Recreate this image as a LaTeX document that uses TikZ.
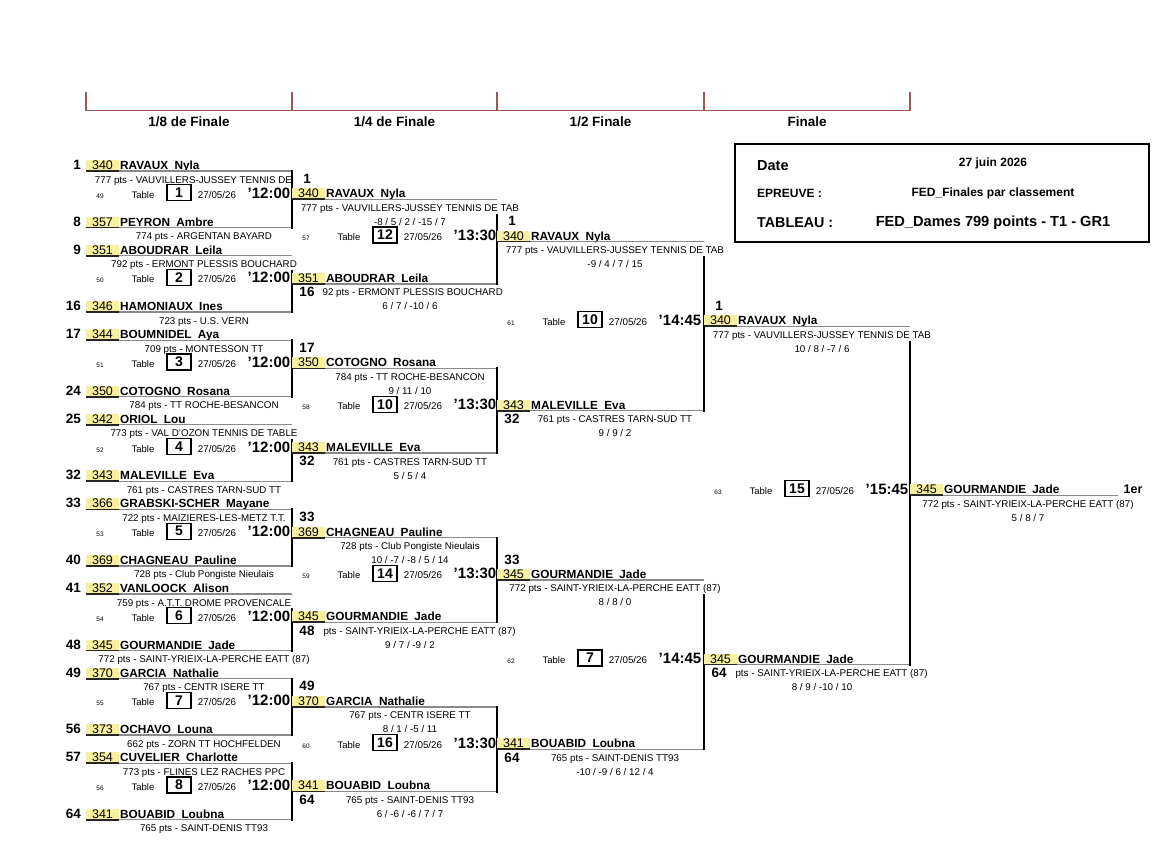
\documentclass[tikz,border=0pt]{standalone}
\usepackage{fontspec}
\setmainfont{Liberation Sans}
\definecolor{yel}{HTML}{F7F0A0}
\definecolor{hdrc}{HTML}{A05555}
\definecolor{lgray}{HTML}{8A8A8A}
\tikzset{
 brat/.style={anchor=base,inner sep=0pt,font=\fontsize{12.5}{14}\selectfont},
 bnm/.style={anchor=base west,inner sep=0pt,font=\bfseries\fontsize{11.8}{14}\selectfont},
 bclub/.style={anchor=base,inner sep=0pt,font=\fontsize{9.8}{12}\selectfont},
 bseedl/.style={anchor=base east,inner sep=0pt,font=\bfseries\fontsize{13.5}{15}\selectfont},
 bseedc/.style={anchor=base,inner sep=0pt,font=\bfseries\fontsize{13.5}{15}\selectfont},
 bmno/.style={anchor=base,inner sep=0pt,font=\fontsize{6.5}{8}\selectfont},
 btbl/.style={anchor=base,inner sep=0pt,font=\fontsize{9.5}{11}\selectfont},
 bbox/.style={draw,line width=1.2pt,minimum width=24pt,minimum height=16pt,inner sep=0pt,font=\bfseries\fontsize{14}{16}\selectfont},
 bdate/.style={anchor=base,inner sep=0pt,font=\fontsize{9.8}{11}\selectfont},
 btm/.style={anchor=base,inner sep=0pt,font=\bfseries\fontsize{15}{17}\selectfont},
 bdk/.style={line width=1.8pt,black!85},
 bgy/.style={line width=1.3pt,lgray},
 bvl/.style={line width=2.2pt,black,line cap=rect},
 bhd/.style={line width=1.1pt,hdrc},
 bhl/.style={anchor=base,inner sep=0pt,font=\bfseries\fontsize{13.5}{15}\selectfont},
 binfo/.style={inner sep=0pt,font=\bfseries\fontsize{12}{14}\selectfont},
}
\newcommand\bent[7]{%
 \fill[yel] (#2,#3-9.5) rectangle ++(33,11);
 \node[brat] (#1r) at (#2+16.5,#3) {#4};
 \node[bnm] (#1n) at (#2+34,#3) {#5\hspace{3pt} #6};
 \coordinate (#1a) at (#2,#3+1.5);
 \coordinate (#1m) at (#2+33,#3+1.5);
 \coordinate (#1b) at (#2+#7,#3+1.5);
 \draw[bgy] (#1m) -- (#1b);
 \draw[bdk] (#1a) -- (#1m);
}
\newcommand\pone[7]{%
 \bent{#1}{86}{#2}{#4}{#5}{#6}{206}
 \node[bseedl] (#1k) at (81,#2) {#3};
 \node[bclub] (#1c) at (204,#2+13.5) {#7};
}
\newcommand\bcs[4]{\node[bclub] (#1c) at (#2+118,#3+13.5) {#4};}
\newcommand\bsc[4]{\node[bclub] (#1s) at (#2+118,#3+27.5) {#4};}
\newcommand\bsu[4]{\node[bseedc] (#1k) at (#2+15,#3-14.4) {#4};}
\newcommand\bsd[4]{\node[bseedc] (#1k) at (#2+15,#3+14.4) {#4};}
\newcommand\bmatch[6]{%
 \node[bmno] (#1n) at (#2+14,#3) {#4};
 \node[btbl] (#1t) at (#2+57,#3) {Table};
 \node[bbox] (#1x) at (#2+93,#3-5.5) {#5};
 \node[bdate] (#1d) at (#2+131,#3) {27/05/26};
 \node[btm] (#1h) at (#2+183,#3) {'#6};
}
\begin{document}
\begin{tikzpicture}[x=1pt,y=-1pt]
\fill[white] (0,0) rectangle (1169,847);
\useasboundingbox (0,0) rectangle (1169,847);
% header
\draw[bhd] (86,92) -- (86,110.5) -- (910,110.5) -- (910,92);
\foreach \x in {292,497,704} \draw[bhd] (\x,92) -- (\x,110.5);
\node[bhl] (h1) at (189,126) {1/8 de Finale};
\node[bhl] (h2) at (394.5,126) {1/4 de Finale};
\node[bhl] (h3) at (600.5,126) {1/2 Finale};
\node[bhl] (h4) at (807,126) {Finale};
% info box
\draw[line width=2pt] (735,144) rectangle (1149,242);
\node[binfo,anchor=base west,font=\bfseries\fontsize{14.5}{16}\selectfont] (idate) at (757,170.5) {Date};
\node[binfo,anchor=base] (idatev) at (993,166.5) {27 juin 2026};
\node[binfo,anchor=base west] (iep) at (757,197) {EPREUVE :};
\node[binfo,anchor=base] (iepv) at (993,196.5) {FED\_Finales par classement};
\node[binfo,anchor=base west,font=\bfseries\fontsize{14.3}{16}\selectfont] (itab) at (757,227) {TABLEAU :};
\node[binfo,anchor=base,font=\bfseries\fontsize{14.6}{16}\selectfont] (itabv) at (993,226) {FED\_Dames 799 points - T1 - GR1};
% ---- 1/8 de finale
\pone{a1}{169.5}{1}{340}{RAVAUX}{Nyla}{777 pts - VAUVILLERS-JUSSEY TENNIS DE\phantom{ TAB}}
\pone{a8}{226.0}{8}{357}{PEYRON}{Ambre}{774 pts - ARGENTAN BAYARD}
\pone{a9}{254.1}{9}{351}{ABOUDRAR}{Leila}{792 pts - ERMONT PLESSIS BOUCHARD}
\pone{a16}{310.6}{16}{346}{HAMONIAUX}{Ines}{723 pts - U.S. VERN}
\pone{a17}{338.7}{17}{344}{BOUMNIDEL}{Aya}{709 pts - MONTESSON TT}
\pone{a24}{395.2}{24}{350}{COTOGNO}{Rosana}{784 pts - TT ROCHE-BESANCON}
\pone{a25}{423.3}{25}{342}{ORIOL}{Lou}{773 pts - VAL D'OZON TENNIS DE TABLE}
\pone{a32}{479.8}{32}{343}{MALEVILLE}{Eva}{761 pts - CASTRES TARN-SUD TT}
\pone{a33}{507.9}{33}{366}{GRABSKI-SCHER}{Mayane}{722 pts - MAIZIERES-LES-METZ T.T.}
\pone{a40}{564.4}{40}{369}{CHAGNEAU}{Pauline}{728 pts - Club Pongiste Nieulais}
\pone{a41}{592.5}{41}{352}{VANLOOCK}{Alison}{759 pts - A.T.T. DROME PROVENCALE}
\pone{a48}{649.0}{48}{345}{GOURMANDIE}{Jade}{772 pts - SAINT-YRIEIX-LA-PERCHE EATT (87)}
\pone{a49}{677.1}{49}{370}{GARCIA}{Nathalie}{767 pts - CENTR ISERE TT}
\pone{a56}{733.6}{56}{373}{OCHAVO}{Louna}{662 pts - ZORN TT HOCHFELDEN}
\pone{a57}{761.7}{57}{354}{CUVELIER}{Charlotte}{773 pts - FLINES LEZ RACHES PPC}
\pone{a64}{818.2}{64}{341}{BOUABID}{Loubna}{765 pts - SAINT-DENIS TT93}
\bmatch{m49}{86}{198.25}{49}{1}{12:00}
\bmatch{m50}{86}{282.85}{50}{2}{12:00}
\bmatch{m51}{86}{367.45}{51}{3}{12:00}
\bmatch{m52}{86}{452.05}{52}{4}{12:00}
\bmatch{m53}{86}{536.65}{53}{5}{12:00}
\bmatch{m54}{86}{621.25}{54}{6}{12:00}
\bmatch{m55}{86}{705.85}{55}{7}{12:00}
\bmatch{m56}{86}{790.45}{56}{8}{12:00}
\coordinate (g9) at (292,271.1);
\coordinate (g25) at (292,440.3);
\coordinate (g41) at (292,609.5);
\draw[bvl] (a1b) -- (a8b);
\draw[bvl] (g9) -- (a16b);
\draw[bvl] (a17b) -- (a24b);
\draw[bvl] (g25) -- (a32b);
\draw[bvl] (a33b) -- (a40b);
\draw[bvl] (g41) -- (a48b);
\draw[bvl] (a49b) -- (a56b);
\draw[bvl] (a57b) -- (a64b);
% ---- 1/4 de finale
\bent{b1}{292}{197.75}{340}{RAVAUX}{Nyla}{205}
\bsu{b1}{292}{197.75}{1}
\bcs{b1}{292}{197.75}{777 pts - VAUVILLERS-JUSSEY TENNIS DE TAB}
\bsc{b1}{292}{197.75}{-8 / 5 / 2 / -15 / 7}
\bent{b16}{292}{282.35}{351}{ABOUDRAR}{Leila}{205}
\bsd{b16}{292}{282.35}{16}
\bcs{b16}{292}{282.35}{\phantom{7}92 pts - ERMONT PLESSIS BOUCHARD}
\bsc{b16}{292}{282.35}{6 / 7 / -10 / 6}
\bent{b17}{292}{366.95}{350}{COTOGNO}{Rosana}{205}
\bsu{b17}{292}{366.95}{17}
\bcs{b17}{292}{366.95}{784 pts - TT ROCHE-BESANCON}
\bsc{b17}{292}{366.95}{9 / 11 / 10}
\bent{b32}{292}{451.55}{343}{MALEVILLE}{Eva}{205}
\bsd{b32}{292}{451.55}{32}
\bcs{b32}{292}{451.55}{761 pts - CASTRES TARN-SUD TT}
\bsc{b32}{292}{451.55}{5 / 5 / 4}
\bent{b33}{292}{536.15}{369}{CHAGNEAU}{Pauline}{205}
\bsu{b33}{292}{536.15}{33}
\bcs{b33}{292}{536.15}{728 pts - Club Pongiste Nieulais}
\bsc{b33}{292}{536.15}{10 / -7 / -8 / 5 / 14}
\bent{b48}{292}{620.75}{345}{GOURMANDIE}{Jade}{205}
\bsd{b48}{292}{620.75}{48}
\bcs{b48}{292}{620.75}{\phantom{772 }pts - SAINT-YRIEIX-LA-PERCHE EATT (87)}
\bsc{b48}{292}{620.75}{9 / 7 / -9 / 2}
\bent{b49}{292}{705.35}{370}{GARCIA}{Nathalie}{205}
\bsu{b49}{292}{705.35}{49}
\bcs{b49}{292}{705.35}{767 pts - CENTR ISERE TT}
\bsc{b49}{292}{705.35}{8 / 1 / -5 / 11}
\bent{b64}{292}{789.95}{341}{BOUABID}{Loubna}{205}
\bsd{b64}{292}{789.95}{64}
\bcs{b64}{292}{789.95}{765 pts - SAINT-DENIS TT93}
\bsc{b64}{292}{789.95}{6 / -6 / -6 / 7 / 7}
\bmatch{m57}{292}{240.55}{57}{12}{13:30}
\bmatch{m58}{292}{409.75}{58}{10}{13:30}
\bmatch{m59}{292}{578.95}{59}{14}{13:30}
\bmatch{m60}{292}{748.15}{60}{16}{13:30}
\coordinate (gb1) at (497,214.75);
\draw[bvl] (gb1) -- (b16b);
\draw[bvl] (b17b) -- (b32b);
\draw[bvl] (b33b) -- (b48b);
\draw[bvl] (b49b) -- (b64b);
% ---- 1/2 finale
\bent{c1}{497}{240.05}{340}{RAVAUX}{Nyla}{207}
\bsu{c1}{497}{240.05}{1}
\bcs{c1}{497}{240.05}{777 pts - VAUVILLERS-JUSSEY TENNIS DE TAB}
\bsc{c1}{497}{240.05}{-9 / 4 / 7 / 15}
\bent{c32}{497}{409.25}{343}{MALEVILLE}{Eva}{207}
\bsd{c32}{497}{409.25}{32}
\bcs{c32}{497}{409.25}{761 pts - CASTRES TARN-SUD TT}
\bsc{c32}{497}{409.25}{9 / 9 / 2}
\bent{c33}{497}{578.45}{345}{GOURMANDIE}{Jade}{207}
\bsu{c33}{497}{578.45}{33}
\bcs{c33}{497}{578.45}{772 pts - SAINT-YRIEIX-LA-PERCHE EATT (87)}
\bsc{c33}{497}{578.45}{8 / 8 / 0}
\bent{c64}{497}{747.65}{341}{BOUABID}{Loubna}{207}
\bsd{c64}{497}{747.65}{64}
\bcs{c64}{497}{747.65}{765 pts - SAINT-DENIS TT93}
\bsc{c64}{497}{747.65}{-10 / -9 / 6 / 12 / 4}
\bmatch{m61}{497}{325.15}{61}{10}{14:45}
\bmatch{m62}{497}{663.55}{62}{7}{14:45}
\coordinate (gc1) at (704,257.05);
\coordinate (gc33) at (704,595.45);
\draw[bvl] (gc1) -- (c32b);
\draw[bvl] (gc33) -- (c64b);
% ---- finale
\bent{d1}{704}{324.65}{340}{RAVAUX}{Nyla}{206}
\bsu{d1}{704}{324.65}{1}
\bcs{d1}{704}{324.65}{777 pts - VAUVILLERS-JUSSEY TENNIS DE TAB}
\bsc{d1}{704}{324.65}{10 / 8 / -7 / 6}
\bent{d64}{704}{663.05}{345}{GOURMANDIE}{Jade}{206}
\bsd{d64}{704}{663.05}{64}
\bcs{d64}{704}{663.05}{\phantom{772 }pts - SAINT-YRIEIX-LA-PERCHE EATT (87)}
\bsc{d64}{704}{663.05}{8 / 9 / -10 / 10}
\bmatch{m63}{704}{494.35}{63}{15}{15:45}
\coordinate (gd1) at (910,341.65);
\draw[bvl] (gd1) -- (d64b);
% ---- winner
\bent{w}{910}{493.85}{345}{GOURMANDIE}{Jade}{208}
\bcs{w}{910}{493.85}{772 pts - SAINT-YRIEIX-LA-PERCHE EATT (87)}
\bsc{w}{910}{493.85}{5 / 8 / 7}
\node[bnm,anchor=base,font=\bfseries\fontsize{12.5}{14}\selectfont] (wfirst) at (1133,493.85) {1er};
\end{tikzpicture}
\end{document}
